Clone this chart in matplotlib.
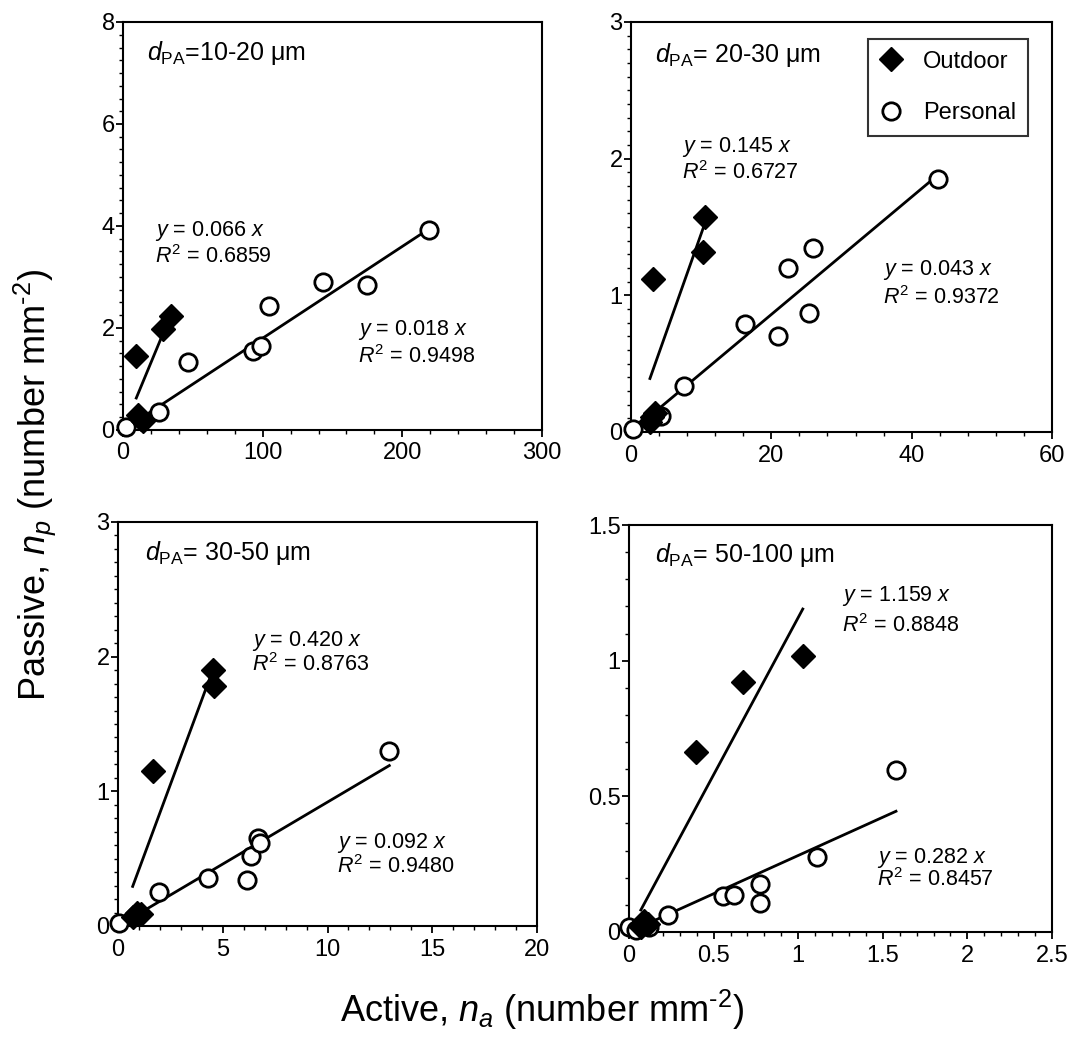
import matplotlib
matplotlib.use("Agg")
import matplotlib.pyplot as plt
from matplotlib.ticker import MultipleLocator, FuncFormatter
from matplotlib.lines import Line2D
import numpy as np

plt.rcParams['font.family'] = ['Liberation Sans', 'DejaVu Sans']
plt.rcParams['mathtext.fontset'] = 'custom'
plt.rcParams['mathtext.rm'] = 'Liberation Sans'
plt.rcParams['mathtext.it'] = 'Liberation Sans:italic'
plt.rcParams['mathtext.bf'] = 'Liberation Sans:bold'

# ---- data: active (x) vs passive (y) particle counts, number mm^-2 ----
p1_out_x = [9.5, 28.6, 34.5, 11.0, 13.0, 14.5]
p1_out_y = [1.45, 1.98, 2.24, 0.30, 0.22, 0.17]
p1_per_x = [2.0, 26.0, 46.4, 92.8, 98.8, 104.8, 142.9, 175.0, 219.0]
p1_per_y = [0.05, 0.36, 1.34, 1.55, 1.65, 2.44, 2.91, 2.85, 3.93]

p2_out_x = [3.2, 10.2, 10.5, 2.7, 3.0, 3.4]
p2_out_y = [1.12, 1.32, 1.57, 0.07, 0.11, 0.14]
p2_per_x = [0.3, 4.3, 7.5, 16.3, 20.9, 22.4, 25.4, 26.0, 43.8]
p2_per_y = [0.02, 0.12, 0.34, 0.79, 0.70, 1.20, 0.87, 1.35, 1.85]

p3_out_x = [1.68, 4.54, 4.59, 0.7, 0.9, 1.1]
p3_out_y = [1.15, 1.90, 1.78, 0.07, 0.10, 0.09]
p3_per_x = [0.05, 1.97, 4.3, 6.17, 6.33, 6.68, 6.8, 12.95]
p3_per_y = [0.02, 0.25, 0.36, 0.34, 0.52, 0.65, 0.62, 1.30]

p4_out_x = [0.395, 0.672, 1.027, 0.07, 0.09, 0.11]
p4_out_y = [0.665, 0.923, 1.018, 0.02, 0.04, 0.03]
p4_per_x = [0.0, 0.044, 0.12, 0.231, 0.557, 0.62, 0.774, 0.774, 1.11, 1.578]
p4_per_y = [0.02, 0.007, 0.02, 0.063, 0.133, 0.136, 0.177, 0.106, 0.278, 0.597]

# regression slopes (through origin) and R^2
slopes_out = [0.066, 0.145, 0.420, 1.159]
r2_out = ["0.6859", "0.6727", "0.8763", "0.8848"]
slopes_per = [0.018, 0.043, 0.092, 0.282]
r2_per = ["0.9498", "0.9372", "0.9480", "0.8457"]

size_ranges = ["=10-20 \u03bcm", "= 20-30 \u03bcm", "= 30-50 \u03bcm", "= 50-100 \u03bcm"]

x_limits = [(0, 300), (0, 60), (0, 20), (0, 2.5)]
y_limits = [(0, 8), (0, 3), (0, 3), (0, 1.5)]
x_major = [100, 20, 5, 0.5]
x_minor = [20, 4, 1, 0.1]
y_major = [2, 1, 1, 0.5]
y_minor = [0.25, 0.1, 0.1, 0.1]

W, H = 1075, 1048
fig = plt.figure(figsize=(W / 100, H / 100), dpi=100)

# panel boxes in pixels: left, right, top, bottom
boxes = [(123, 542, 22, 430), (631, 1052, 22, 432),
         (118, 537, 522, 926), (629, 1052, 525, 932)]

# annotation anchors in axes fraction
label_pos = [(0.057, 0.924), (0.057, 0.920), (0.064, 0.923), (0.061, 0.926)]
eq_out_pos = [(0.076, 0.488, 0.424), (0.121, 0.694, 0.632),
              (0.320, 0.705, 0.646), (0.503, 0.826, 0.754)]
eq_per_pos = [(0.561, 0.244, 0.179), (0.599, 0.395, 0.329),
              (0.522, 0.205, 0.146), (0.586, 0.182, 0.128)]

out_x = [p1_out_x, p2_out_x, p3_out_x, p4_out_x]
out_y = [p1_out_y, p2_out_y, p3_out_y, p4_out_y]
per_x = [p1_per_x, p2_per_x, p3_per_x, p4_per_x]
per_y = [p1_per_y, p2_per_y, p3_per_y, p4_per_y]

fmt = FuncFormatter(lambda v, p: f"{v:g}")

CIRCLE = dict(marker='o', ms=12.5, mfc='white', mec='black', mew=2.0)
DIAMOND = dict(marker='D', ms=12, mfc='black', mec='black', mew=1.0)

for i in range(4):
    l, r, t, b = boxes[i]
    ax = fig.add_axes([l / W, 1 - b / H, (r - l) / W, (b - t) / H])
    ax.set_xlim(*x_limits[i])
    ax.set_ylim(*y_limits[i])

    # fitted lines over the range of each series
    xo = np.array([min(out_x[i]), max(out_x[i])])
    ax.plot(xo, slopes_out[i] * xo, color='black', lw=2.0, zorder=2)
    xp = np.array([min(per_x[i]), max(per_x[i])])
    ax.plot(xp, slopes_per[i] * xp, color='black', lw=2.0, zorder=2)

    ax.plot(per_x[i], per_y[i], ls='none', zorder=3, clip_on=False, **CIRCLE)
    ax.plot(out_x[i], out_y[i], ls='none', zorder=4, clip_on=False, **DIAMOND)

    ax.xaxis.set_major_locator(MultipleLocator(x_major[i]))
    ax.xaxis.set_minor_locator(MultipleLocator(x_minor[i]))
    ax.yaxis.set_major_locator(MultipleLocator(y_major[i]))
    ax.yaxis.set_minor_locator(MultipleLocator(y_minor[i]))
    ax.xaxis.set_major_formatter(fmt)
    ax.yaxis.set_major_formatter(fmt)
    ax.tick_params(which='major', direction='out', length=5, width=1.3,
                   labelsize=17)
    ax.tick_params(axis='x', which='major', pad=4)
    ax.tick_params(axis='y', which='major', pad=1)
    ax.tick_params(which='minor', direction='out', length=3, width=1.0)
    ax.tick_params(top=False, right=False, which='both')
    for s in ax.spines.values():
        s.set_linewidth(1.5)

    lx, ly = label_pos[i]
    ax.text(lx, ly, r"$d_{\mathrm{PA}}$" + size_ranges[i], transform=ax.transAxes,
            fontsize=18, ha='left', va='center')

    ex, ey1, ey2 = eq_out_pos[i]
    ax.text(ex, ey1, rf"$y$ = {slopes_out[i]:.3f} $x$", transform=ax.transAxes,
            fontsize=15.5, ha='left', va='center')
    ax.text(ex, ey2, r"$R^{\mathrm{2}}$ = " + r2_out[i], transform=ax.transAxes,
            fontsize=15.5, ha='left', va='center')

    px_, py1, py2 = eq_per_pos[i]
    ax.text(px_, py1, rf"$y$ = {slopes_per[i]:.3f} $x$", transform=ax.transAxes,
            fontsize=15.5, ha='left', va='center')
    ax.text(px_, py2, r"$R^{\mathrm{2}}$ = " + r2_per[i], transform=ax.transAxes,
            fontsize=15.5, ha='left', va='center')

    if i == 1:
        handles = [Line2D([], [], ls='none', **DIAMOND),
                   Line2D([], [], ls='none', **CIRCLE)]
        leg = ax.legend(handles, ["Outdoor", "Personal"], loc='upper right',
                        bbox_to_anchor=(0.943, 0.959), fontsize=17, frameon=True,
                        fancybox=False, edgecolor='black', borderpad=0.5,
                        labelspacing=1.25, handletextpad=0.85, handlelength=1.0,
                        borderaxespad=0)
        leg.get_frame().set_linewidth(1.5)

unit_sup = "mm$^{\\mathrm{\u20102}}$"
fig.text(35 / W, 1 - 485 / H, r"Passive, $n_p$ (number " + unit_sup + ")",
         rotation=90, fontsize=26, ha='center', va='center')
fig.text(542 / W, 1 - 1010 / H, r"Active, $n_a$ (number " + unit_sup + ")",
         fontsize=26, ha='center', va='center')

fig.savefig("out.png", dpi=100)
